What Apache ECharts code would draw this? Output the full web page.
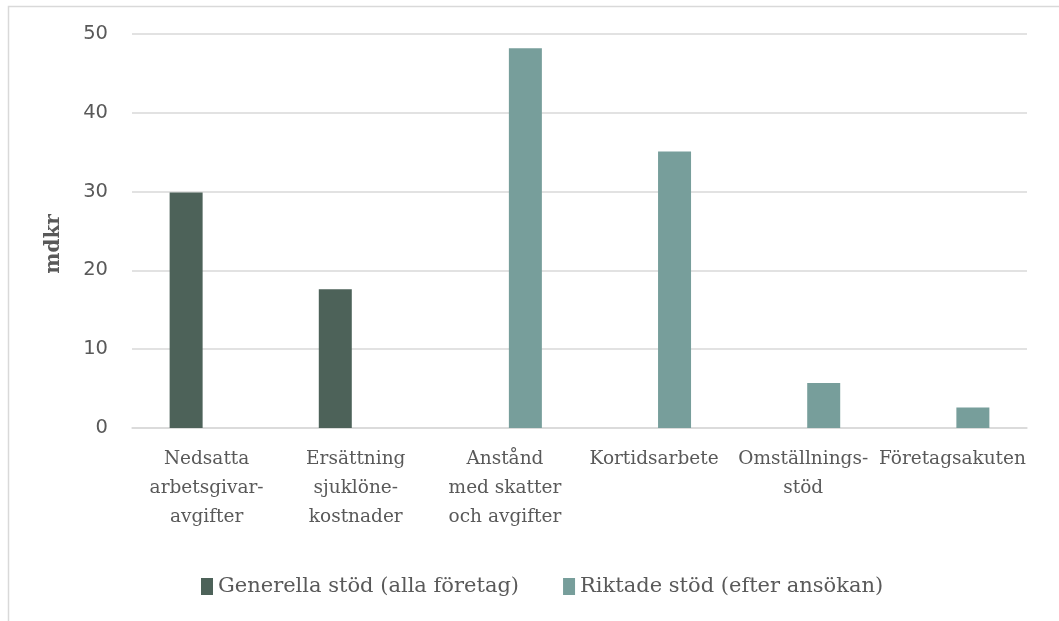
<!DOCTYPE html>
<html>
<head>
<meta charset="utf-8">
<script src="https://cdn.jsdelivr.net/npm/echarts@6/dist/echarts.min.js"></script>
<style>
  html, body { margin: 0; padding: 0; background: #fff; }
  #main { width: 1059px; height: 621px; }
</style>
</head>
<body>
<div id="main"></div>
<script>
var categories = [
  'Nedsatta\narbetsgivar-\navgifter',
  'Ersättning\nsjuklöne-\nkostnader',
  'Anstånd\nmed skatter\noch avgifter',
  'Kortidsarbete',
  'Omställnings-\nstöd',
  'Företagsakuten'
];
var seriesNames = ['Generella stöd (alla företag)', 'Riktade stöd (efter ansökan)'];
var generella = [29.9, 17.6, null, null, null, null];
var riktade = [null, null, 48.2, 35.1, 5.7, 2.6];
var yTicks = [0, 10, 20, 30, 40, 50];

var dome = document.getElementById('main');
var myChart = echarts.init(dome);

var textColor = '#595959';

option = {
  backgroundColor: '#fff',
  animation: false,
  graphic: [{
    type: 'rect',
    shape: { x: 8.5, y: 6.5, width: 1100, height: 700 },
    style: { fill: 'none', stroke: '#d9d9d9', lineWidth: 1.5 },
    silent: true
  }],
  grid: { left: 132, right: 32, top: 34, bottom: 193 },
  legend: {
    left: 196,
    top: 571,
    itemWidth: 12,
    itemHeight: 17,
    itemGap: 44,
    icon: 'rect',
    textStyle: { color: textColor, fontFamily: 'DejaVu Serif', fontSize: 21 },
    data: seriesNames
  },
  xAxis: {
    type: 'category',
    data: categories,
    axisLine: { lineStyle: { color: '#d9d9d9', width: 1.5 } },
    axisTick: { show: false },
    axisLabel: {
      interval: 0,
      margin: 17,
      color: textColor,
      fontFamily: 'DejaVu Serif',
      fontSize: 18.5,
      lineHeight: 29
    }
  },
  yAxis: {
    type: 'value',
    min: yTicks[0],
    max: yTicks[yTicks.length - 1],
    interval: 10,
    name: 'mdkr',
    nameLocation: 'middle',
    nameGap: 68,
    nameTextStyle: {
      color: textColor, fontFamily: 'DejaVu Serif', fontSize: 20, fontWeight: 'bold',
      padding: [0, 26, 0, 0]
    },
    axisLine: { show: false },
    axisTick: { show: false },
    axisLabel: { margin: 24, color: textColor, fontFamily: 'DejaVu Sans', fontSize: 19.5 },
    splitLine: { lineStyle: { color: '#d9d9d9', width: 1.5 } }
  },
  series: [{
    name: seriesNames[0],
    type: 'bar',
    data: generella,
    barWidth: 33,
    barGap: '24%',
    itemStyle: { color: '#4d6259' }
  }, {
    name: seriesNames[1],
    type: 'bar',
    data: riktade,
    barWidth: 33,
    barGap: '24%',
    itemStyle: { color: '#779e9b' }
  }]
};

myChart.setOption(option);
</script>
</body>
</html>
